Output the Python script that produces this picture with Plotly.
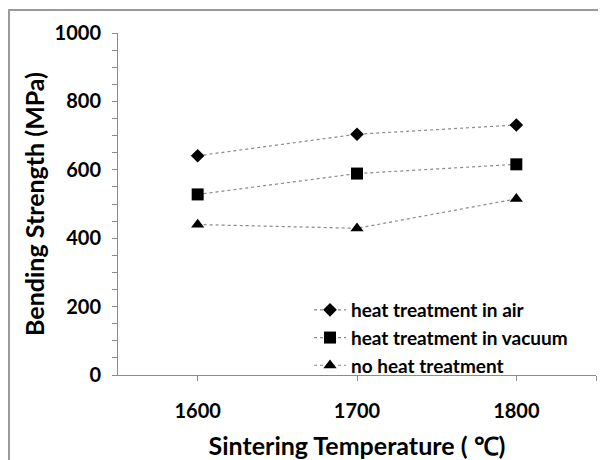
import plotly.graph_objects as go

temps = [1600, 1700, 1800]
air = [641, 704, 731]
vacuum = [528, 589, 616]
none_ = [440, 429, 515]
series_names = ["heat treatment in air", "heat treatment in vacuum", "no heat treatment"]
x_tick_vals = [1600, 1700, 1800, 1850]
x_tick_text = ["1600", "1700", "1800", ""]
y_tick_vals = [0, 200, 400, 600, 800, 1000]

FONT = "Lato"
OFF = 8  # page body margin
W, H = 606 - OFF, 460 - OFF
# plot area in page pixels: x 118..596, y 33..375
L, T = 118 - OFF, 33 - OFF
R = W - (596 - OFF)
B = H - (375 - OFF)

fig = go.Figure()
for name, vals, sym, size in [
    (series_names[0], air, "diamond", 10.5),
    (series_names[1], vacuum, "square", 12),
    (series_names[2], none_, "triangle-up", 11.5),
]:
    fig.add_trace(go.Scatter(
        x=temps, y=vals, name=name, mode="lines+markers",
        line=dict(color="#8a8a8a", width=1.2, dash="dot"),
        marker=dict(symbol=sym, size=size, color="black", line=dict(width=0)),
    ))

pw = W - L - R
ph = H - T - B
def px_x(p):  # page x -> paper fraction
    return (p - OFF - L) / pw
def px_y(p):  # page y -> paper fraction
    return (H - B - (p - OFF)) / ph

fig.add_shape(type="rect", xref="paper", yref="paper",
              x0=px_x(OFF + 1), x1=px_x(620), y0=px_y(480), y1=px_y(10),
              line=dict(color="#9a9a9a", width=2), fillcolor="rgba(0,0,0,0)")

fig.update_layout(
    width=W, height=H,
    margin=dict(l=L, r=R, t=T, b=B, pad=0, autoexpand=False),
    paper_bgcolor="white", plot_bgcolor="white",
    font=dict(family=FONT, color="black"),
    showlegend=True,
    legend=dict(x=px_x(309), xanchor="left", y=px_y(385), yanchor="bottom",
                bgcolor="rgba(0,0,0,0)", font=dict(size=19, family=FONT, weight="bold"),
                tracegroupgap=0, itemwidth=32),
    xaxis=dict(range=[1550, 1850], tickvals=x_tick_vals, ticktext=x_tick_text, automargin=False,
               showgrid=False, zeroline=False, showline=True, linecolor="#8c8c8c", linewidth=1,
               ticks="outside", ticklen=5, tickcolor="#8c8c8c",
               tickfont=dict(size=20, family=FONT, weight="bold"), ticklabelstandoff=13,
               title=dict(text="Sintering Temperature ( ℃)", font=dict(size=25, family=FONT, weight="bold"), standoff=16)),
    yaxis=dict(range=[0, 1000], tickvals=y_tick_vals, automargin=False,
               showgrid=False, zeroline=False, showline=True, linecolor="#8c8c8c", linewidth=1,
               ticks="outside", ticklen=5, tickcolor="#8c8c8c",
               minor=dict(dtick=50, ticks="outside", ticklen=5, tickcolor="#8c8c8c"),
               tickfont=dict(size=20, family=FONT, weight="bold"), ticklabelstandoff=7,
               title=dict(text="Bending Strength (MPa)", font=dict(size=25, family=FONT, weight="bold"), standoff=2)),
)

fig.write_html("out.html")
